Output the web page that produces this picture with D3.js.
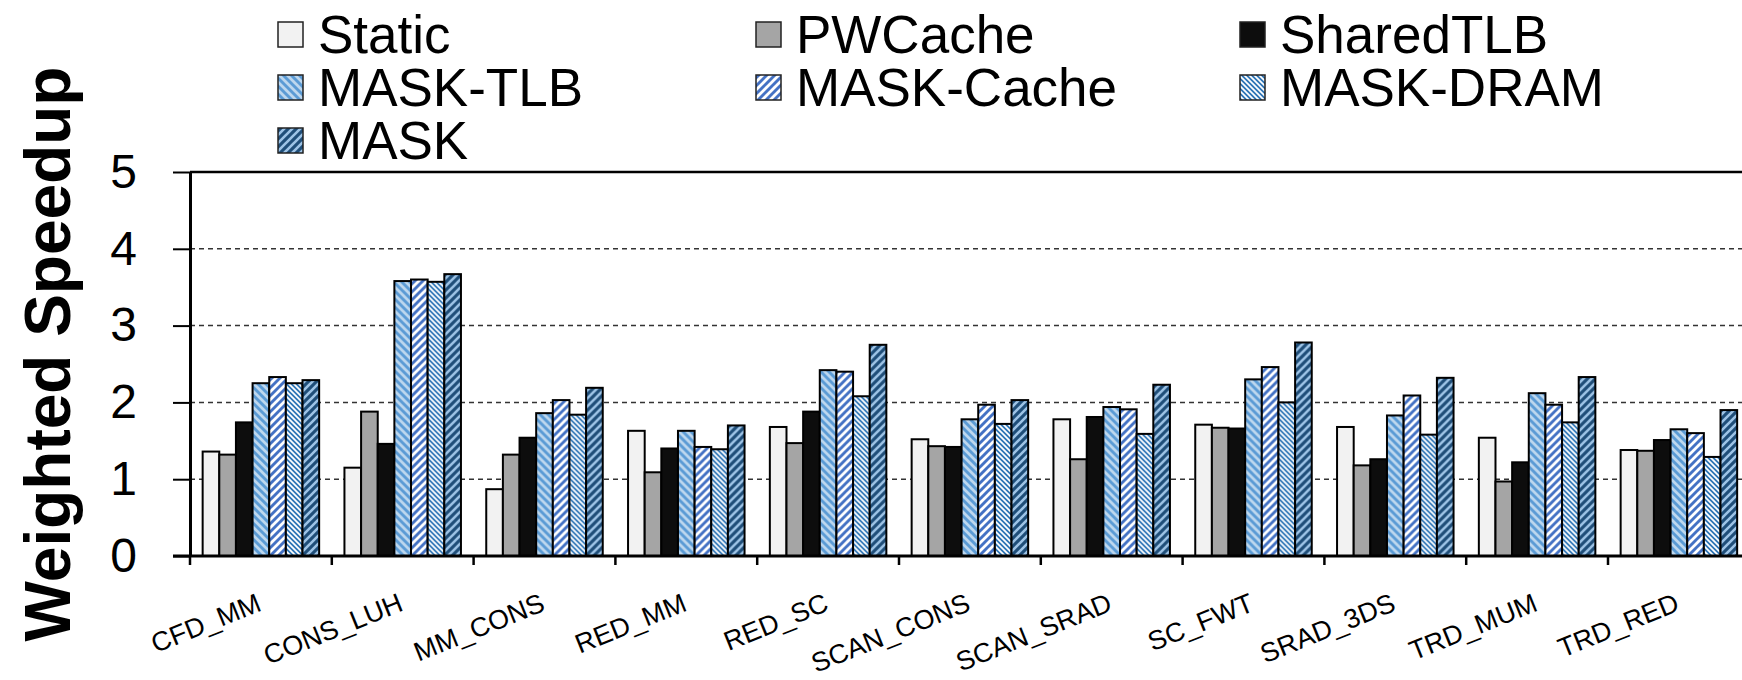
<!DOCTYPE html>
<html>
<head>
<meta charset="utf-8">
<script src="https://cdn.jsdelivr.net/npm/d3@7"></script>
<style>
  body { margin: 0; background: #fff; }
  text { font-family: Arial, 'Liberation Sans', sans-serif; }
</style>
</head>
<body>
<div id="chart"></div>
<script>
// benchmark pairs on the x axis
const categories = ['CFD_MM', 'CONS_LUH', 'MM_CONS', 'RED_MM', 'RED_SC', 'SCAN_CONS',
  'SCAN_SRAD', 'SC_FWT', 'SRAD_3DS', 'TRD_MUM', 'TRD_RED'];
const seriesNames = ['Static', 'PWCache', 'SharedTLB', 'MASK-TLB', 'MASK-Cache', 'MASK-DRAM', 'MASK'];

// weighted speedup
const staticVals = [1.36, 1.15, 0.87, 1.63, 1.68, 1.52, 1.78, 1.71, 1.68, 1.54, 1.38];
const pwcacheVals = [1.32, 1.88, 1.32, 1.09, 1.47, 1.43, 1.26, 1.67, 1.18, 0.97, 1.37];
const sharedTlbVals = [1.74, 1.46, 1.54, 1.40, 1.88, 1.42, 1.81, 1.66, 1.26, 1.22, 1.51];
const maskTlbVals = [2.25, 3.58, 1.86, 1.63, 2.42, 1.78, 1.94, 2.30, 1.83, 2.12, 1.65];
const maskCacheVals = [2.33, 3.60, 2.03, 1.42, 2.40, 1.97, 1.91, 2.46, 2.09, 1.97, 1.60];
const maskDramVals = [2.25, 3.57, 1.84, 1.39, 2.08, 1.72, 1.59, 2.00, 1.58, 1.74, 1.29];
const maskVals = [2.29, 3.67, 2.19, 1.70, 2.75, 2.03, 2.23, 2.78, 2.32, 2.33, 1.90];

const yTicks = [0, 1, 2, 3, 4, 5];

const allVals = [staticVals, pwcacheVals, sharedTlbVals, maskTlbVals, maskCacheVals, maskDramVals, maskVals];

const makePlot = () => {
  const size = { width: 1742, height: 680 };
  const margin = { top: 172, left: 190, bottom: 122 };
  const groupStep = 141.8;

  const svg = d3.select('#chart').append('svg')
    .attr('width', size.width)
    .attr('height', size.height);

  const defs = svg.append('defs');

  // striped fills
  const patterns = [
    { id: 'p-tlb', base: '#5b9bd5', stripe: '#bdd7ee', dir: 'down', tile: 8, w: 2.8 },
    { id: 'p-cache', base: '#4472c4', stripe: '#ffffff', dir: 'up', tile: 8, w: 2.8 },
    { id: 'p-dram', base: '#2e75b6', stripe: '#ffffff', dir: 'down', tile: 5, w: 1.7 },
    { id: 'p-mask', base: '#1f4e79', stripe: '#9dc3e6', dir: 'up', tile: 8, w: 2.6 },
  ];
  patterns.forEach((p) => {
    const t = p.tile;
    const pat = defs.append('pattern')
      .attr('id', p.id)
      .attr('patternUnits', 'userSpaceOnUse')
      .attr('width', t)
      .attr('height', t);
    pat.append('rect').attr('width', t).attr('height', t).attr('fill', p.base);
    const d = p.dir === 'down'
      ? `M${-t / 2},${t / 2} L${t / 2},${1.5 * t} M0,0 L${t},${t} M${t / 2},${-t / 2} L${1.5 * t},${t / 2}`
      : `M${-t / 2},${t / 2} L${t / 2},${-t / 2} M0,${t} L${t},0 M${t / 2},${1.5 * t} L${1.5 * t},${t / 2}`;
    pat.append('path').attr('d', d).attr('stroke', p.stripe).attr('stroke-width', p.w);
  });

  const fills = ['#f2f2f2', '#a5a5a5', '#0d0d0d', 'url(#p-tlb)', 'url(#p-cache)', 'url(#p-dram)', 'url(#p-mask)'];

  /**
   * Scales
   */
  const x0 = d3.scaleBand()
    .domain(categories)
    .range([margin.left, margin.left + groupStep * categories.length]);

  const x1 = d3.scaleBand()
    .domain(seriesNames)
    .range([0, x0.bandwidth()])
    .paddingOuter(0.76);

  const y = d3.scaleLinear()
    .domain([0, 5])
    .range([size.height - margin.bottom - 2, margin.top]);

  // gridlines
  svg.append('g')
    .selectAll('line')
    .data(yTicks.filter((d) => d > 0 && d < 5))
    .enter()
    .append('line')
    .attr('x1', margin.left)
    .attr('x2', size.width)
    .attr('y1', (d) => y(d))
    .attr('y2', (d) => y(d))
    .attr('stroke', '#333')
    .attr('stroke-width', 1.5)
    .attr('stroke-dasharray', '5,4');

  // top border
  svg.append('line')
    .attr('x1', margin.left)
    .attr('x2', size.width)
    .attr('y1', y(5))
    .attr('y2', y(5))
    .attr('stroke', '#000')
    .attr('stroke-width', 2.5);

  /**
   * Bars
   */
  const rows = categories.map((c, i) => ({
    cat: c,
    vals: seriesNames.map((s, j) => ({ s, j, v: allVals[j][i] })),
  }));

  svg.append('g')
    .selectAll('g')
    .data(rows)
    .enter()
    .append('g')
    .attr('transform', (d) => `translate(${x0(d.cat)},0)`)
    .selectAll('rect')
    .data((d) => d.vals)
    .enter()
    .append('rect')
    .attr('x', (d) => x1(d.s))
    .attr('width', x1.bandwidth())
    .attr('y', (d) => y(d.v))
    .attr('height', (d) => y(0) - y(d.v))
    .attr('fill', (d) => fills[d.j])
    .attr('stroke', '#000')
    .attr('stroke-width', 2);

  /**
   * Axes
   */
  const yAxis = svg.append('g')
    .attr('transform', `translate(${margin.left},0)`)
    .call(d3.axisLeft(y).tickValues(yTicks).tickFormat(d3.format('d'))
      .tickSize(17).tickSizeOuter(0).tickPadding(36));
  yAxis.select('.domain').attr('stroke-width', 3);
  yAxis.selectAll('.tick line').attr('stroke-width', 2);
  yAxis.selectAll('.tick text')
    .style('font-size', '48px')
    .attr('fill', '#000');

  // x axis baseline
  svg.append('line')
    .attr('x1', margin.left - 17)
    .attr('x2', size.width)
    .attr('y1', y(0))
    .attr('y2', y(0))
    .attr('stroke', '#000')
    .attr('stroke-width', 3);

  // ticks between the groups
  svg.append('g')
    .selectAll('line')
    .data(categories)
    .enter()
    .append('line')
    .attr('x1', (d) => x0(d))
    .attr('x2', (d) => x0(d))
    .attr('y1', y(0))
    .attr('y2', y(0) + 9)
    .attr('stroke', '#000')
    .attr('stroke-width', 2.5);

  svg.append('g')
    .selectAll('text')
    .data(categories)
    .enter()
    .append('text')
    .text((d) => d)
    .attr('text-anchor', 'end')
    .style('font-size', '27px')
    .attr('transform', (d) => `translate(${x0(d) + x0.bandwidth() / 2 + 2},${y(0) + 54}) rotate(-22)`);

  svg.append('text')
    .text('Weighted Speedup')
    .attr('text-anchor', 'middle')
    .style('font-size', '64px')
    .style('font-weight', 'bold')
    .attr('transform', `translate(70,${(y(0) + y(5)) / 2 - 10}) rotate(-90)`);

  /**
   * Legend
   */
  const legendCols = [278, 756, 1240];
  const legendRows = [53, 106, 159];
  const legend = svg.append('g')
    .selectAll('g')
    .data(seriesNames)
    .enter()
    .append('g')
    .attr('transform', (d, i) => `translate(${legendCols[i % 3]},${legendRows[Math.floor(i / 3)]})`);

  legend.append('rect')
    .attr('x', 0)
    .attr('y', -31)
    .attr('width', 25)
    .attr('height', 25)
    .attr('fill', (d, i) => fills[i])
    .attr('stroke', '#222')
    .attr('stroke-width', 1.5);

  legend.append('text')
    .text((d) => d)
    .attr('x', 40)
    .attr('y', 0)
    .style('font-size', '53px');
};

makePlot();
</script>
</body>
</html>
